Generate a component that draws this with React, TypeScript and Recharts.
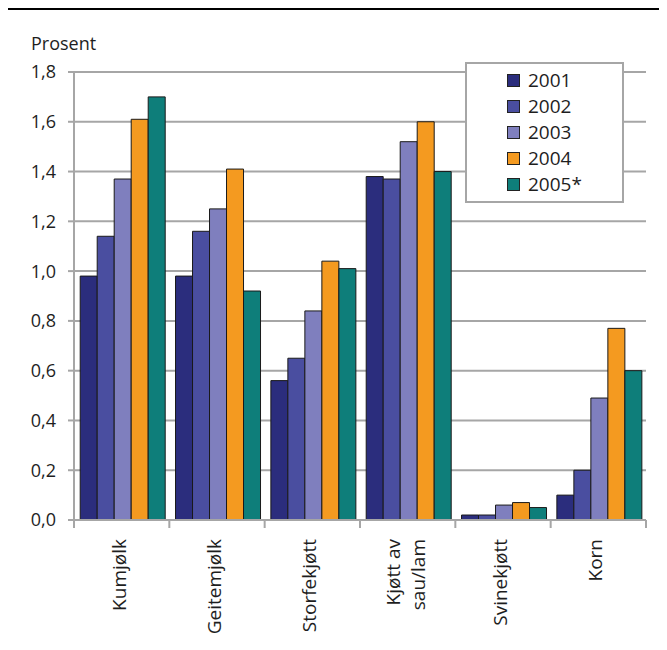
import React from 'react';
import { BarChart, Bar, XAxis, YAxis, CartesianGrid, Legend } from 'recharts';

const categories = ['Kumjølk', 'Geitemjølk', 'Storfekjøtt', 'Kjøtt av\nsau/lam', 'Svinekjøtt', 'Korn'];
const v2001 = [0.98, 0.98, 0.56, 1.38, 0.02, 0.10];
const v2002 = [1.14, 1.16, 0.65, 1.37, 0.02, 0.20];
const v2003 = [1.37, 1.25, 0.84, 1.52, 0.06, 0.49];
const v2004 = [1.61, 1.41, 1.04, 1.60, 0.07, 0.77];
const v2005 = [1.70, 0.92, 1.01, 1.40, 0.05, 0.60];
const yTicks = [0, 0.2, 0.4, 0.6, 0.8, 1.0, 1.2, 1.4, 1.6, 1.8];

const seriesNames = ['2001', '2002', '2003', '2004', '2005*'];
const seriesValues = [v2001, v2002, v2003, v2004, v2005];
const seriesColors = ['#2b2d7d', '#4a4ea0', '#7f7fbe', '#f49a20', '#0e7e7a'];

const data = categories.map((c, i) => {
  const row: any = { pos: i + 0.5, name: c };
  seriesNames.forEach((s, k) => {
    row[s] = seriesValues[k][i];
  });
  return row;
});

const xTicks: number[] = [];
for (let i = 0; i <= categories.length * 2; i++) xTicks.push(i / 2);

const FONT = '"Open Sans", "DejaVu Sans", sans-serif';
const GRID = '#a6a6a6';
const TEXT = '#1e1e1e';

const XTick = (props: any) => {
  const { x, y, payload } = props;
  const idx = Math.round(payload.value * 2);
  if (idx % 2 === 0) {
    return <line x1={x} x2={x} y1={y} y2={y + 8} stroke={GRID} strokeWidth={2} />;
  }
  const label: string = categories[(idx - 1) / 2] || '';
  const lines = label.split('\n');
  const offsets = lines.length === 1 ? [4] : [-8, 17];
  return (
    <g transform={`translate(${x},${y + 19}) rotate(-90)`}>
      <text textAnchor="end" fontSize={19} fill={TEXT} fontFamily={FONT}>
        {lines.map((l, i) => (
          <tspan key={i} x={0} y={offsets[i]}>
            {l}
          </tspan>
        ))}
      </text>
    </g>
  );
};

const LegendBox = (props: any) => {
  const payload = props.payload || [];
  return (
    <div
      style={{
        border: `2px solid ${GRID}`,
        background: '#fff',
        paddingTop: 3,
        paddingBottom: 4,
        boxSizing: 'border-box',
        width: 159,
        fontFamily: FONT,
      }}
    >
      {payload.map((p: any, i: number) => (
        <div
          key={i}
          style={{ height: 26, display: 'flex', alignItems: 'center', paddingLeft: 40 }}
        >
          <span
            style={{
              display: 'inline-block',
              width: 11,
              height: 11,
              background: p.color,
              border: '1px solid #222',
              marginRight: 8,
            }}
          />
          <span style={{ fontSize: 19, color: TEXT, lineHeight: '26px' }}>{p.value}</span>
        </div>
      ))}
    </div>
  );
};

export default function App() {
  return (
    <div style={{ position: 'relative', width: 659, height: 642, fontFamily: FONT }}>
      <div style={{ position: 'absolute', left: 0, top: 0, width: 659, height: 2, background: '#000' }} />
      <div
        style={{
          position: 'absolute',
          left: 23,
          top: 26,
          fontSize: 18,
          lineHeight: '18px',
          color: TEXT,
          fontFamily: FONT,
        }}
      >
        Prosent
      </div>
      <BarChart
        width={659}
        height={642}
        data={data}
        margin={{ top: 64, right: 21, left: 0, bottom: 10 }}
        barGap={0}
        barCategoryGap="6.5%"
      >
        <CartesianGrid vertical={false} stroke={GRID} strokeWidth={2} />
        <XAxis
          dataKey="pos"
          type="number"
          domain={[0, categories.length]}
          ticks={xTicks}
          interval={0}
          tickLine={false}
          tickSize={0}
          tickMargin={0}
          axisLine={{ stroke: GRID, strokeWidth: 2 }}
          tick={<XTick />}
          height={120}
        />
        <YAxis
          domain={[0, 1.8]}
          ticks={yTicks}
          interval={0}
          width={66}
          tickSize={6}
          tickMargin={12}
          axisLine={{ stroke: GRID, strokeWidth: 2 }}
          tickLine={{ stroke: GRID, strokeWidth: 2 }}
          tick={{ fontSize: 18, fill: TEXT, fontFamily: FONT }}
          tickFormatter={(v: number) => v.toFixed(1).replace('.', ',')}
        />
        <Legend
          layout="vertical"
          align="center"
          verticalAlign="middle"
          content={<LegendBox />}
          wrapperStyle={{ top: 54, left: 457, width: 159 }}
        />
        {seriesNames.map((s, k) => (
          <Bar
            key={s}
            dataKey={s}
            name={s}
            fill={seriesColors[k]}
            stroke="#1a1a1a"
            strokeWidth={1}
            isAnimationActive={false}
          />
        ))}
      </BarChart>
    </div>
  );
}
